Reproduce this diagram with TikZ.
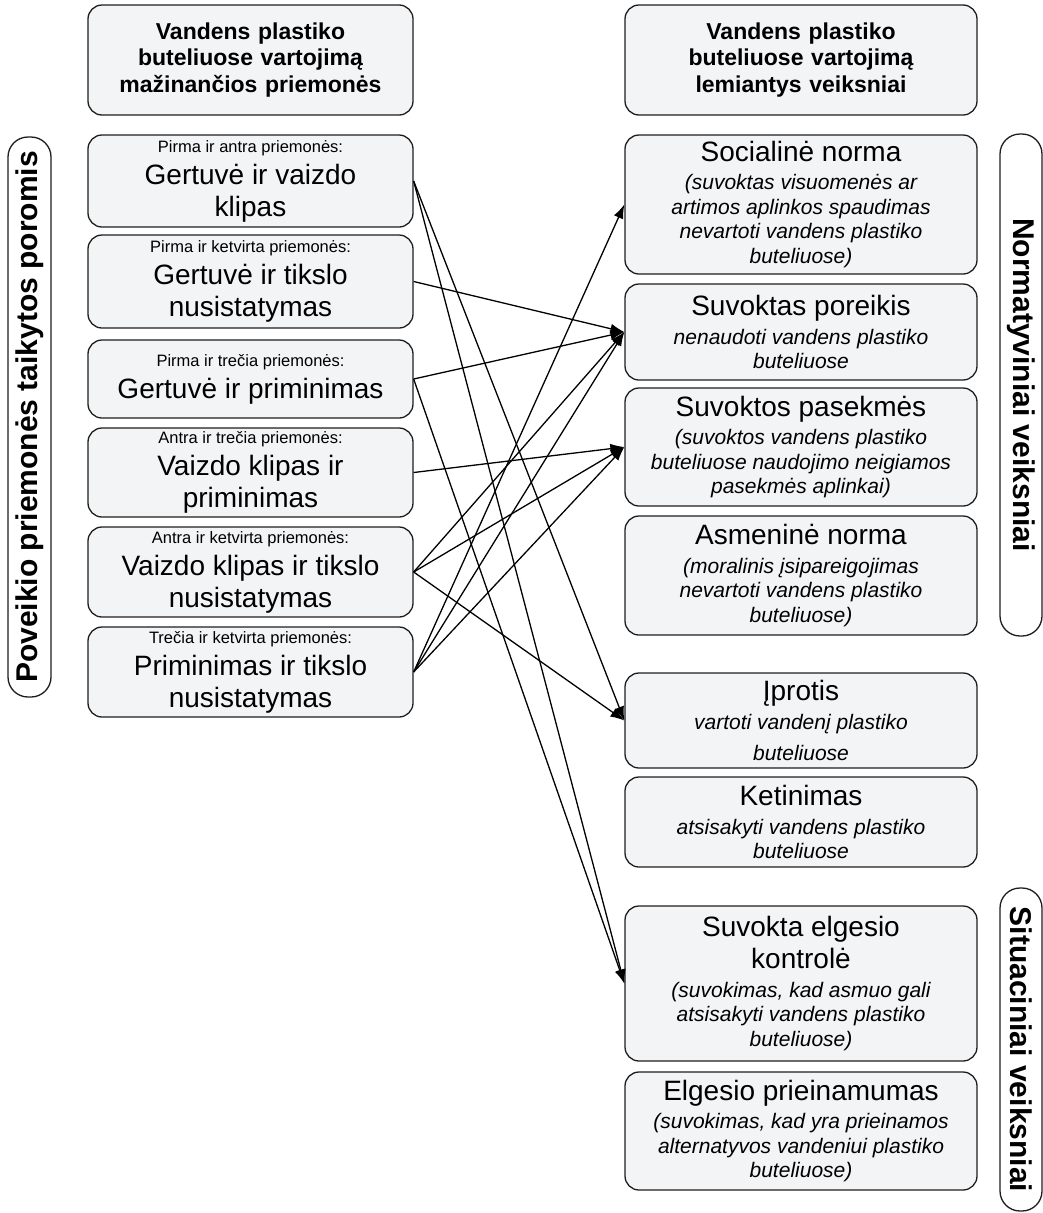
\documentclass[tikz,border=0pt]{standalone}
\usepackage{fontspec}
\setmainfont{Liberation Sans}
\usetikzlibrary{arrows.meta}
\setlength\parindent{0pt}
\definecolor{boxfill}{RGB}{243,244,246}
\definecolor{edge}{RGB}{30,30,30}
\newcommand{\fixsp}{\spaceskip=\fontdimen2\font\relax\xspaceskip=\fontdimen2\font\relax\leftskip=0pt plus 1fil\rightskip=0pt plus 1fil\parfillskip=0pt\relax}
\newcommand{\smallf}{\fontsize{16.5}{19}\selectfont\fixsp}
\newcommand{\titlef}{\fontsize{28}{32}\selectfont\fixsp}
\newcommand{\itf}{\vspace{4pt}\fontsize{21}{24.5}\selectfont\itshape\fixsp}
\newcommand{\headf}{\fontsize{23}{26.5}\selectfont\bfseries}
\newcommand{\sidef}{\fontsize{30}{34}\selectfont\bfseries}
\begin{document}
\begin{tikzpicture}[x=1pt,y=-1pt,
  box/.style={draw=edge, line width=1.3pt, fill=boxfill, rounded corners=14pt, align=center, inner sep=0pt},
  lbox/.style={box, minimum width=325pt, text width=318pt},
  rbox/.style={box, minimum width=352pt, text width=345pt},
  side/.style={draw=edge, line width=1.3pt, fill=white, rounded corners=20pt, inner sep=0pt, font=\sidef},
  conn/.style={line width=1.3pt, -{Latex[length=14pt,width=10pt]}}]
\useasboundingbox (0,0) rectangle (1043,1213);
% headers
\node[lbox, minimum height=110pt, font=\headf] (hl) at (250.5,60) {Vandens plastiko\\buteliuose vartojimą\\mažinančios priemonės};
\node[rbox, minimum height=110pt, font=\headf] (hr) at (801,60) {Vandens plastiko\\buteliuose vartojimą\\lemiantys veiksniai};
% left boxes
\node[lbox, minimum height=92pt] (l1) at (250.5,181) {{\smallf Pirma ir antra priemonės:\par}{\titlef Gertuvė ir vaizdo\\klipas\par}};
\node[lbox, minimum height=93pt] (l2) at (250.5,281.5) {{\smallf Pirma ir ketvirta priemonės:\par}{\titlef Gertuvė ir tikslo\\nusistatymas\par}};
\node[lbox, minimum height=78pt] (l3) at (250.5,379) {{\smallf Pirma ir trečia priemonės:\par}{\titlef Gertuvė ir priminimas\par}};
\node[lbox, minimum height=89pt] (l4) at (250.5,472.5) {{\smallf Antra ir trečia priemonės:\par}{\titlef Vaizdo klipas ir\\priminimas\par}};
\node[lbox, minimum height=90pt] (l5) at (250.5,572) {{\smallf Antra ir ketvirta priemonės:\par}{\titlef Vaizdo klipas ir tikslo\\nusistatymas\par}};
\node[lbox, minimum height=90pt] (l6) at (250.5,672) {{\smallf Trečia ir ketvirta priemonės:\par}{\titlef Priminimas ir tikslo\\nusistatymas\par}};
% right boxes
\node[rbox, minimum height=139pt] (rsoc) at (801,204.5) {{\titlef Socialinė norma\par}{\itf (suvoktas visuomenės ar\\artimos aplinkos spaudimas\\nevartoti vandens plastiko\\buteliuose)\par}};
\node[rbox, minimum height=96pt] (rpor) at (801,332) {{\titlef Suvoktas poreikis\par}{\itf nenaudoti vandens plastiko\\buteliuose\par}};
\node[rbox, minimum height=118pt] (rpas) at (801,447) {{\titlef Suvoktos pasekmės\par}{\itf (suvoktos vandens plastiko\\buteliuose naudojimo neigiamos\\pasekmės aplinkai)\par}};
\node[rbox, minimum height=119pt] (rasm) at (801,575.5) {{\titlef Asmeninė norma\par}{\itf (moralinis įsipareigojimas\\nevartoti vandens plastiko\\buteliuose)\par}};
\node[rbox, minimum height=95pt] (ripr) at (801,720.5) {{\titlef Įprotis\par}{\itf vartoti vandenį plastiko\\[7pt]buteliuose\par}};
\node[rbox, minimum height=90pt] (rket) at (801,822) {{\titlef Ketinimas\par}{\itf atsisakyti vandens plastiko\\buteliuose\par}};
\node[rbox, minimum height=155pt] (rkon) at (801,983.5) {{\titlef Suvokta elgesio\\kontrolė\par}{\itf (suvokimas, kad asmuo gali\\atsisakyti vandens plastiko\\buteliuose)\par}};
\node[rbox, minimum height=118pt] (rpri) at (801,1131) {{\titlef Elgesio prieinamumas\par}{\itf (suvokimas, kad yra prieinamos\\alternatyvos vandeniui plastiko\\buteliuose)\par}};
% side labels
\node[side, rotate=90, minimum width=560pt, minimum height=43pt] (sl) at (29.5,417) {Poveikio priemonės taikytos poromis};
\node[side, rotate=-90, minimum width=502pt, minimum height=42pt] (sn) at (1021,385) {Normatyviniai veiksniai};
\node[side, rotate=-90, minimum width=323pt, minimum height=42pt] (ss) at (1021,1049.5) {Situaciniai veiksniai};
% connectors
\draw[conn] (l1.east) -- (ripr.west);
\draw[conn] (l1.east) -- (rkon.west);
\draw[conn] (l2.east) -- (rpor.west);
\draw[conn] (l3.east) -- (rpor.west);
\draw[conn] (l3.east) -- (rkon.west);
\draw[conn] (l4.east) -- (rpas.west);
\draw[conn] (l5.east) -- (rpor.west);
\draw[conn] (l5.east) -- (rpas.west);
\draw[conn] (l5.east) -- (ripr.west);
\draw[conn] (l6.east) -- (rsoc.west);
\draw[conn] (l6.east) -- (rpor.west);
\draw[conn] (l6.east) -- (rpas.west);
\end{tikzpicture}
\end{document}
